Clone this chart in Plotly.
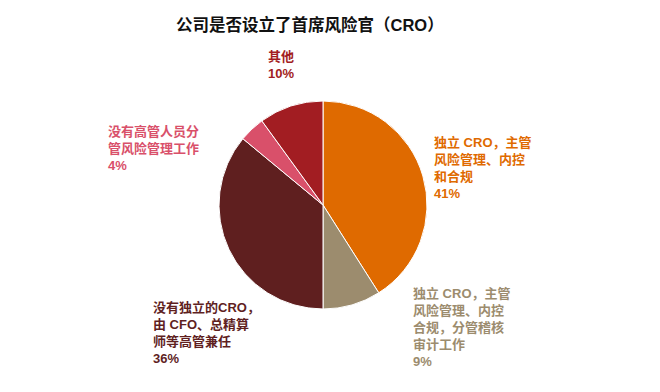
import plotly.graph_objects as go

title = "公司是否设立了首席风险官（CRO）"
labels = [
    "独立 CRO，主管<br>风险管理、内控<br>和合规",
    "独立 CRO，主管<br>风险管理、内控<br>合规，分管稽核<br>审计工作",
    "没有独立的CRO，<br>由 CFO、总精算<br>师等高管兼任",
    "没有高管人员分<br>管风险管理工作",
    "其他",
]
values = [41, 9, 36, 4, 10]
colors = ["#DF6A00", "#9C8C6E", "#5F1F1F", "#D9506A", "#A21D22"]

# label anchor positions (pixels, top-left, in page coordinates)
label_pos = [(432, 133), (411, 284), (151, 298), (106, 122), (266, 47)]

W, H = 660, 392
OFF = 8  # page body margin


def px_x(x):
    return (x - OFF) / W


def px_y(y):
    return 1 - (y - OFF) / H


fig = go.Figure(go.Pie(
    values=values,
    labels=[l.replace("<br>", "") for l in labels],
    marker=dict(colors=colors, line=dict(color="white", width=1)),
    sort=False, direction="clockwise", rotation=0,
    textinfo="none", hoverinfo="label+percent",
    domain=dict(x=[px_x(219), px_x(427)], y=[px_y(309), px_y(101)]),
    showlegend=False,
))

font_family = "Liberation Sans, Noto Sans CJK SC, sans-serif"
for lab, v, c, (px, py) in zip(labels, values, colors, label_pos):
    fig.add_annotation(
        x=px_x(px), y=px_y(py), xref="paper", yref="paper",
        xanchor="left", yanchor="top", align="left", showarrow=False,
        text=f"<b>{lab}<br>{v}%</b>",
        font=dict(family=font_family, size=13, color=c),
    )

fig.add_annotation(
    x=px_x(310), y=px_y(24), xref="paper", yref="paper",
    xanchor="center", yanchor="middle", showarrow=False,
    text=f"<b>{title}</b>",
    font=dict(family=font_family, size=16.5, color="#111111"),
)

fig.update_layout(
    width=W, height=H, margin=dict(l=0, r=0, t=0, b=0),
    paper_bgcolor="white", plot_bgcolor="white",
)
fig.write_html("out.html")
